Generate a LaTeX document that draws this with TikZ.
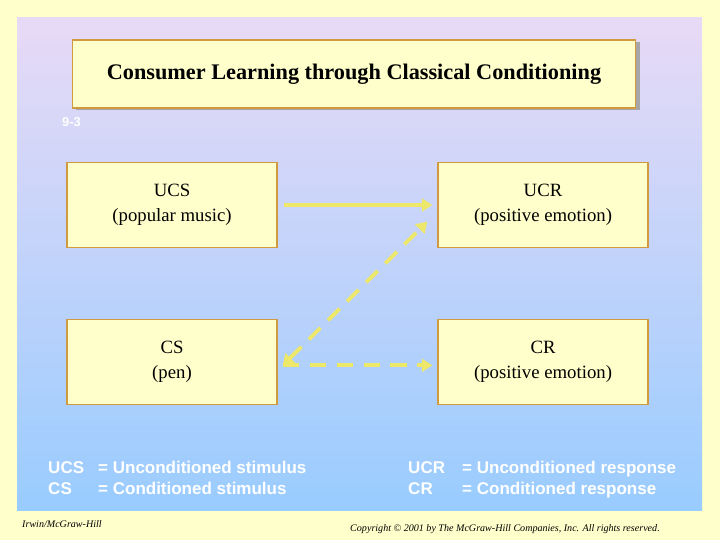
\documentclass[tikz,border=0pt]{standalone}
\usepackage{fontspec}
\setmainfont{Liberation Serif}
\setsansfont{Liberation Sans}
\usetikzlibrary{arrows.meta,positioning}
\definecolor{cream}{HTML}{FFFFCC}
\definecolor{tan}{HTML}{D09A40}
\definecolor{lav}{HTML}{E8DAF6}
\definecolor{sky}{HTML}{99CCFF}
\definecolor{arrowyel}{HTML}{EEE86A}
\begin{document}
\begin{tikzpicture}[x=0.03cm,y=-0.03cm]
	\tikzstyle{Box}    = [draw=tan, line width=1.2pt, fill=cream, minimum width=6.3cm, minimum height=2.55cm, align=center, font=\fontsize{16}{21}\selectfont, inner sep=0pt]
	\tikzstyle{Link}   = [draw=arrowyel, line width=3.2pt, -{Triangle[length=9pt,width=11pt]}]
	\tikzstyle{Dashy}  = [dash pattern=on 14pt off 9pt]
	\tikzstyle{Legend} = [anchor=base west, text=white, font=\sffamily\bfseries\fontsize{14.5}{17}\selectfont, inner sep=0pt]
	\tikzstyle{Foot}   = [anchor=base west, font=\itshape\fontsize{8.6}{10}\selectfont, inner sep=0pt]

	\fill[cream] (0,0) rectangle (720,540);
	\shade[top color=lav, bottom color=sky] (17,18) rectangle (702,510);

	% title
	\fill[black!35] (76,42) rectangle (640,110);
	\node (title) at (354,74) [draw=tan, line width=1.2pt, fill=cream, minimum width=16.9cm, minimum height=2.04cm, font=\bfseries\fontsize{19}{22}\selectfont] {Consumer Learning through Classical Conditioning};
	\node (num) at (62,127) [anchor=base west, text=white, font=\sffamily\bfseries\fontsize{11}{12}\selectfont, inner sep=0pt] {9-3};

	\node (ucs) at (172,205) [Box] {UCS\\(popular music)};
	\node (ucr) at (543,205) [Box] {UCR\\(positive emotion)};
	\node (cs)  at (172,362) [Box] {CS\\(pen)};
	\node (cr)  at (543,362) [Box] {CR\\(positive emotion)};

	\coordinate (csr) at ([xshift=0.15cm,yshift=-0.1cm]cs.east);
	\coordinate (ucrl) at ([xshift=-0.3cm,yshift=-0.5cm]ucr.west);
	\draw [Link] ([xshift=0.2cm]ucs.east) to ([xshift=-0.15cm]ucr.west);
	\draw [Link, Dashy, {Triangle[length=9pt,width=11pt]}-{Triangle[length=9pt,width=11pt]}] (csr) to (ucrl);
	\draw [Link, Dashy] (csr) to ([xshift=-0.15cm,yshift=-0.1cm]cr.west);

	\node (l1a) at (48,473) [Legend] {UCS};
	\node (l1b) at (48,494) [Legend] {CS};
	\node (l2a) at (98,473) [Legend] {= Unconditioned stimulus};
	\node (l2b) at (98,494) [Legend] {= Conditioned stimulus};
	\node (r1a) at (408,473) [Legend] {UCR};
	\node (r1b) at (408,494) [Legend] {CR};
	\node (r2a) at (462,473) [Legend] {= Unconditioned response};
	\node (r2b) at (462,494) [Legend] {= Conditioned response};

	\node (irwin) at (22,527) [Foot] {Irwin/McGraw-Hill};
	\node (copy) at (350,531) [Foot] {Copyright \textcopyright\ 2001 by The McGraw-Hill Companies, Inc. All rights reserved.};
\end{tikzpicture}
\end{document}
